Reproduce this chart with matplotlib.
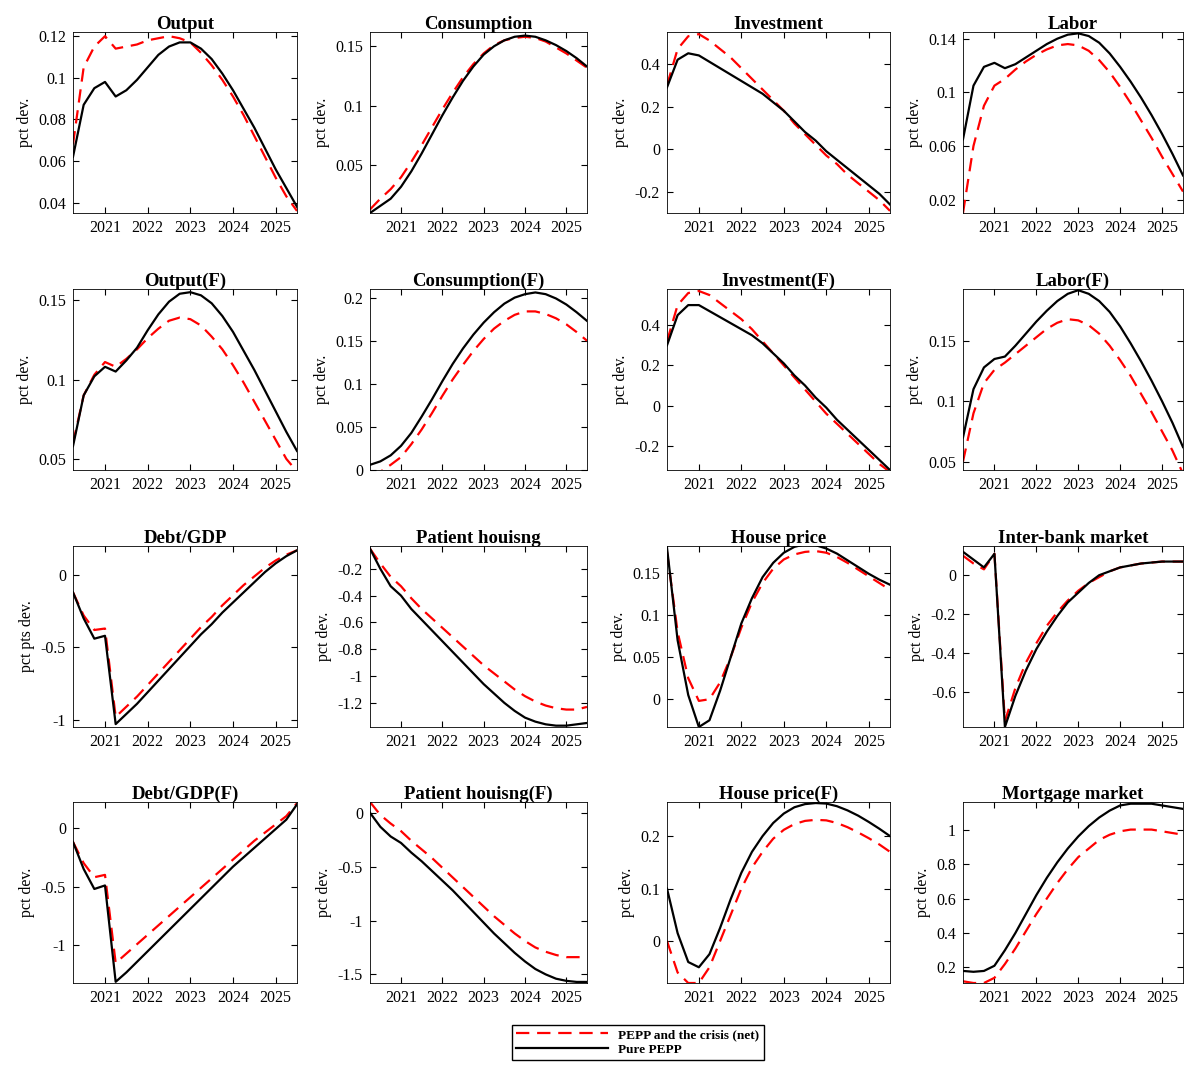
import matplotlib
matplotlib.use("Agg")
import matplotlib.pyplot as plt
import numpy as np

plt.rcParams['font.family'] = ['Liberation Serif', 'DejaVu Serif']

x = [2020.25 + 0.25 * i for i in range(22)]

titles = ["Output", "Consumption", "Investment", "Labor",
          "Output(F)", "Consumption(F)", "Investment(F)", "Labor(F)",
          "Debt/GDP", "Patient houisng", "House price", "Inter-bank market",
          "Debt/GDP(F)", "Patient houisng(F)", "House price(F)", "Mortgage market"]

black = [
 [0.062,0.087,0.095,0.098,0.091,0.094,0.099,0.105,0.111,0.115,0.117,0.117,0.114,0.109,0.102,0.094,0.085,0.076,0.066,0.056,0.047,0.038],
 [0.010,0.016,0.022,0.032,0.045,0.060,0.076,0.092,0.107,0.121,0.133,0.143,0.150,0.155,0.158,0.159,0.158,0.155,0.151,0.146,0.140,0.133],
 [0.29,0.42,0.45,0.44,0.41,0.38,0.35,0.32,0.29,0.26,0.22,0.18,0.13,0.08,0.04,-0.01,-0.05,-0.09,-0.13,-0.17,-0.21,-0.26],
 [0.065,0.105,0.119,0.122,0.118,0.121,0.126,0.131,0.136,0.140,0.143,0.144,0.142,0.137,0.129,0.119,0.108,0.096,0.083,0.069,0.054,0.038],
 [0.058,0.090,0.102,0.108,0.105,0.112,0.120,0.131,0.141,0.149,0.154,0.155,0.153,0.148,0.140,0.130,0.118,0.106,0.093,0.080,0.067,0.055],
 [0.006,0.010,0.017,0.028,0.043,0.062,0.082,0.103,0.123,0.141,0.157,0.171,0.183,0.193,0.200,0.204,0.206,0.204,0.199,0.192,0.183,0.173],
 [0.30,0.45,0.50,0.50,0.47,0.44,0.41,0.38,0.35,0.31,0.26,0.21,0.15,0.10,0.04,-0.01,-0.07,-0.12,-0.17,-0.22,-0.27,-0.32],
 [0.070,0.110,0.128,0.135,0.137,0.146,0.156,0.166,0.175,0.183,0.189,0.192,0.189,0.183,0.174,0.162,0.148,0.133,0.117,0.100,0.082,0.062],
 [-0.12,-0.30,-0.44,-0.42,-1.03,-0.96,-0.89,-0.81,-0.73,-0.65,-0.57,-0.49,-0.41,-0.34,-0.26,-0.19,-0.12,-0.05,0.02,0.08,0.13,0.17],
 [-0.05,-0.20,-0.33,-0.40,-0.50,-0.58,-0.66,-0.74,-0.82,-0.90,-0.98,-1.06,-1.13,-1.20,-1.26,-1.31,-1.34,-1.36,-1.37,-1.37,-1.36,-1.35],
 [0.180,0.070,0.005,-0.033,-0.025,0.010,0.050,0.090,0.120,0.145,0.162,0.174,0.181,0.184,0.183,0.179,0.173,0.165,0.157,0.149,0.142,0.136],
 [0.12,0.08,0.04,0.11,-0.78,-0.62,-0.49,-0.38,-0.29,-0.21,-0.14,-0.09,-0.04,0.00,0.02,0.04,0.05,0.06,0.065,0.07,0.07,0.07],
 [-0.12,-0.35,-0.52,-0.49,-1.31,-1.23,-1.14,-1.05,-0.96,-0.87,-0.78,-0.69,-0.60,-0.51,-0.42,-0.33,-0.25,-0.17,-0.09,-0.01,0.07,0.20],
 [0.00,-0.13,-0.22,-0.28,-0.37,-0.45,-0.54,-0.63,-0.72,-0.82,-0.92,-1.02,-1.12,-1.21,-1.30,-1.38,-1.45,-1.50,-1.54,-1.56,-1.57,-1.57],
 [0.100,0.015,-0.040,-0.050,-0.025,0.025,0.080,0.130,0.170,0.200,0.225,0.243,0.255,0.261,0.263,0.262,0.257,0.249,0.239,0.227,0.214,0.200],
 [0.18,0.175,0.18,0.21,0.30,0.40,0.51,0.62,0.72,0.81,0.89,0.96,1.02,1.07,1.11,1.14,1.15,1.15,1.15,1.14,1.13,1.12],
]
red = [
 [0.068,0.105,0.115,0.120,0.114,0.115,0.116,0.118,0.119,0.120,0.119,0.117,0.112,0.106,0.099,0.091,0.082,0.072,0.062,0.052,0.043,0.036],
 [0.013,0.022,0.030,0.040,0.053,0.067,0.082,0.097,0.111,0.124,0.135,0.144,0.151,0.155,0.157,0.158,0.157,0.154,0.149,0.144,0.138,0.132],
 [0.30,0.47,0.53,0.54,0.51,0.47,0.43,0.38,0.33,0.28,0.23,0.18,0.12,0.07,0.02,-0.03,-0.07,-0.12,-0.16,-0.20,-0.24,-0.29],
 [0.010,0.060,0.090,0.105,0.110,0.117,0.123,0.128,0.132,0.135,0.136,0.135,0.131,0.124,0.115,0.104,0.092,0.079,0.066,0.052,0.039,0.026],
 [0.060,0.090,0.103,0.111,0.108,0.113,0.119,0.126,0.132,0.137,0.139,0.138,0.134,0.127,0.119,0.109,0.098,0.086,0.074,0.062,0.050,0.042],
 [-0.003,-0.002,0.006,0.015,0.030,0.047,0.066,0.086,0.105,0.122,0.138,0.152,0.164,0.173,0.180,0.184,0.184,0.181,0.176,0.169,0.160,0.150],
 [0.32,0.50,0.56,0.57,0.55,0.51,0.47,0.43,0.38,0.32,0.26,0.20,0.14,0.08,0.02,-0.04,-0.09,-0.14,-0.19,-0.24,-0.29,-0.33],
 [0.050,0.090,0.115,0.126,0.132,0.139,0.146,0.153,0.160,0.165,0.168,0.167,0.163,0.156,0.146,0.134,0.121,0.106,0.091,0.075,0.059,0.040],
 [-0.12,-0.28,-0.38,-0.37,-0.98,-0.91,-0.84,-0.76,-0.68,-0.60,-0.52,-0.44,-0.36,-0.29,-0.21,-0.14,-0.07,-0.01,0.05,0.10,0.14,0.17],
 [-0.05,-0.16,-0.26,-0.33,-0.42,-0.50,-0.57,-0.64,-0.71,-0.78,-0.85,-0.92,-0.98,-1.04,-1.10,-1.15,-1.19,-1.22,-1.24,-1.25,-1.25,-1.23],
 [0.175,0.080,0.025,-0.002,0.000,0.020,0.050,0.085,0.115,0.138,0.155,0.166,0.172,0.175,0.176,0.174,0.169,0.162,0.154,0.146,0.138,0.130],
 [0.10,0.06,0.03,0.11,-0.75,-0.58,-0.45,-0.35,-0.26,-0.19,-0.13,-0.08,-0.04,-0.01,0.02,0.04,0.05,0.06,0.065,0.07,0.07,0.07],
 [-0.12,-0.30,-0.42,-0.40,-1.15,-1.07,-0.99,-0.91,-0.83,-0.75,-0.67,-0.59,-0.51,-0.43,-0.35,-0.27,-0.19,-0.11,-0.04,0.03,0.10,0.21],
 [0.10,-0.02,-0.10,-0.17,-0.26,-0.34,-0.42,-0.51,-0.60,-0.69,-0.78,-0.87,-0.96,-1.04,-1.12,-1.19,-1.25,-1.29,-1.32,-1.34,-1.34,-1.34],
 [0.000,-0.060,-0.080,-0.080,-0.050,0.000,0.050,0.100,0.140,0.170,0.195,0.212,0.223,0.229,0.231,0.230,0.225,0.217,0.207,0.196,0.184,0.170],
 [0.12,0.11,0.11,0.14,0.22,0.31,0.41,0.51,0.60,0.69,0.77,0.84,0.89,0.94,0.97,0.99,1.00,1.00,1.00,0.99,0.98,0.97],
]

ylims = [(0.035,0.122),(0.01,0.162),(-0.3,0.55),(0.01,0.145),
         (0.043,0.157),(0,0.21),(-0.32,0.58),(0.043,0.193),
         (-1.05,0.2),(-1.38,-0.03),(-0.033,0.182),(-0.78,0.15),
         (-1.32,0.22),(-1.58,0.1),(-0.08,0.265),(0.11,1.16)]
yticks = [[0.04,0.06,0.08,0.1,0.12],[0.05,0.1,0.15],[-0.2,0,0.2,0.4],[0.02,0.06,0.1,0.14],
          [0.05,0.1,0.15],[0,0.05,0.1,0.15,0.2],[-0.2,0,0.2,0.4],[0.05,0.1,0.15],
          [-1,-0.5,0],[-1.2,-1,-0.8,-0.6,-0.4,-0.2],[0,0.05,0.1,0.15],[-0.6,-0.4,-0.2,0],
          [-1,-0.5,0],[-1.5,-1,-0.5,0],[0,0.1,0.2],[0.2,0.4,0.6,0.8,1]]
ylabels = ["pct dev."]*16
ylabels[8] = "pct pts dev."

fig = plt.figure(figsize=(11.93,10.66), dpi=100)
W, H = 1193, 1066
lefts = [73, 370, 667, 963]
widths = [224, 217, 223, 220]
tops = [32, 289, 546, 802]
hgt = 181
for k in range(16):
    r, c = divmod(k, 4)
    ax = fig.add_axes([lefts[c]/W, 1-(tops[r]+hgt)/H, widths[c]/W, hgt/H])
    l1, = ax.plot(x, red[k], color='red', ls=(0,(6,3.5)), lw=1.6)
    l2, = ax.plot(x, black[k], color='black', lw=1.6)
    ax.set_xlim(2020.25, 2025.5)
    ax.set_xticks([2021,2022,2023,2024,2025])
    ax.set_ylim(*ylims[k])
    ax.set_yticks(yticks[k])
    ax.set_yticklabels(["%g" % v for v in yticks[k]])
    ax.tick_params(direction='in', labelsize=11.5, length=4, top=True, right=True, pad=5)
    ax.set_title(titles[k], fontsize=13.5, fontweight='bold', pad=2)
    ax.set_ylabel(ylabels[k], fontsize=11.5)
    for s in ax.spines.values():
        s.set_linewidth(0.6)

fig.legend([l1, l2], ["PEPP and the crisis (net)", "Pure PEPP"],
           loc='upper left', bbox_to_anchor=(505/W, 1-1018/H),
           prop={'weight':'bold','size':9.5}, fancybox=False, edgecolor='black',
           handlelength=7, borderpad=0.3, labelspacing=0.2, framealpha=1)
fig.savefig("out.png", dpi=100)
